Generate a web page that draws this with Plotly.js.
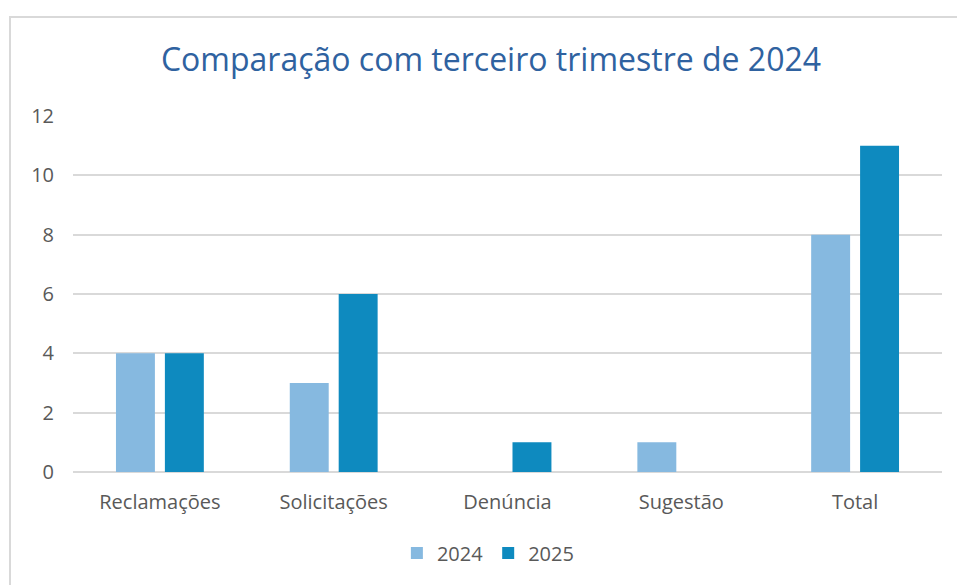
<!DOCTYPE html>
<html>
<head>
<meta charset="utf-8">
<script src="https://cdn.plot.ly/plotly-3.0.1.min.js"></script>
<style>
  html, body { margin: 0; padding: 0; background: #fff; }
  #frame { position: absolute; left: 9px; top: 16px; width: 960px; height: 580px;
           border-left: 2px solid #D9D9D9; border-top: 2px solid #D9D9D9; pointer-events: none; z-index: 5; }
  #chart { position: absolute; left: 0; top: 0; width: 957px; height: 585px; }
</style>
</head>
<body>
<div id="chart"></div>
<div id="frame"></div>
<script>
const categories = ["Reclamações", "Solicitações", "Denúncia", "Sugestão", "Total"];
const values2024 = [4, 3, 0, 1, 8];
const values2025 = [4, 6, 1, 0, 11];
const seriesNames = ["2024", "2025"];
const yTicks = [0, 2, 4, 6, 8, 10, 12];

const data = [
  { type: "bar", name: seriesNames[0], x: categories, y: values2024,
    marker: { color: "#86B9E0" }, hoverinfo: "x+y" },
  { type: "bar", name: seriesNames[1], x: categories, y: values2025,
    marker: { color: "#0E8ABF" }, hoverinfo: "x+y" }
];

const layout = {
  width: 957, height: 585,
  paper_bgcolor: "#ffffff", plot_bgcolor: "#ffffff",
  margin: { l: 73, r: 15, t: 116, b: 113 },
  title: { text: "Comparação com terceiro trimestre de 2024",
           font: { family: "Open Sans, Liberation Sans, sans-serif", size: 32, color: "#2F62A0" },
           x: 0.481, xanchor: "center", y: 1 - 60/585, yanchor: "middle", xref: "paper", yref: "container" },
  barmode: "group", bargap: 0.437, bargroupgap: 0.204,
  font: { family: "Open Sans, Liberation Sans, sans-serif", size: 20, color: "#595959" },
  xaxis: { showgrid: false, zeroline: false, showline: false, ticks: "",
           tickfont: { size: 20, color: "#595959" }, ticklabelstandoff: 16, fixedrange: true },
  yaxis: { range: [0, 12], tickvals: yTicks, ticktext: yTicks.map(String),
           showgrid: true, gridcolor: "#D9D9D9", gridwidth: 2,
           zeroline: true, zerolinecolor: "#D9D9D9", zerolinewidth: 2,
           showline: false, ticks: "", ticklen: 0, tickfont: { size: 20, color: "#595959" },
           ticklabelstandoff: 18, fixedrange: true },
  showlegend: true,
  legend: { orientation: "h", x: 0.478, xanchor: "center", y: -0.2275, yanchor: "middle",
            font: { size: 20, color: "#595959" }, itemwidth: 30, tracegroupgap: 0 }
};

Plotly.newPlot("chart", data, layout, { displayModeBar: false, staticPlot: true });
</script>
</body>
</html>
